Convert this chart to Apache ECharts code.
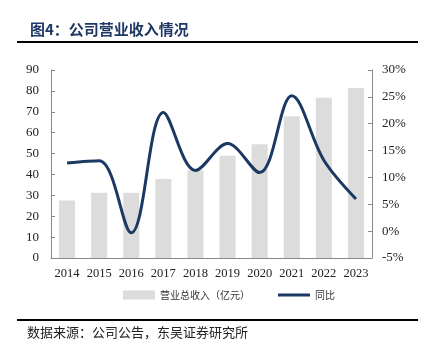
<!DOCTYPE html>
<html>
<head>
<meta charset="utf-8">
<script src="https://cdn.jsdelivr.net/npm/echarts@6/dist/echarts.min.js"></script>
<style>
  html, body { margin: 0; padding: 0; background: #fff; }
  #chart { width: 426px; height: 353px; }
</style>
</head>
<body>
<div id="chart"></div>
<script>
var years = ['2014', '2015', '2016', '2017', '2018', '2019', '2020', '2021', '2022', '2023'];
var revenue = [27.5, 31.2, 31.2, 37.8, 42.0, 48.9, 54.4, 67.9, 76.7, 81.4];
var yoy = [12.7, 13.1, -0.3, 22.1, 11.3, 16.3, 10.9, 25.2, 13.2, 6.0];

var serif = '"Liberation Serif", "Noto Sans CJK SC", serif';
var cjk = '"Noto Sans CJK SC", sans-serif';

var chart = echarts.init(document.getElementById('chart'));
chart.setOption({
    animation: false,
    title: {
        text: '图4：公司营业收入情况',
        left: 25, top: 17,
        textStyle: { fontFamily: cjk, fontSize: 15, fontWeight: 'bold', color: '#1f3864' }
    },
    graphic: [
        { type: 'rect', shape: { x: 17, y: 41, width: 401, height: 2 }, style: { fill: '#000' } },
        { type: 'rect', shape: { x: 17, y: 319, width: 401, height: 2 }, style: { fill: '#000' } },
        { type: 'text', left: 27, top: 326, style: { text: '数据来源：公司公告，东吴证券研究所', font: '13px ' + cjk, fill: '#222' } }
    ],
    grid: { left: 51, right: 54, top: 70, bottom: 95 },
    legend: {
        bottom: 48, left: 118,
        itemGap: 28,
        textStyle: { fontFamily: cjk, fontSize: 10, color: '#333' },
        data: [
            { name: '营业总收入（亿元）', icon: 'rect', itemStyle: { color: '#dcdcdc' } },
            { name: '同比', icon: 'path://M0,0L100,0L100,10L0,10Z', itemStyle: { color: '#1b3a63' } }
        ],
        itemWidth: 32, itemHeight: 9
    },
    xAxis: {
        type: 'category',
        data: years,
        axisLine: { lineStyle: { color: '#888' } },
        axisTick: { inside: true, length: 4, lineStyle: { color: '#888' } },
        axisLabel: { fontFamily: serif, fontSize: 12.5, color: '#222', margin: 9, interval: 0 }
    },
    yAxis: [{
        type: 'value', min: 0, max: 90, interval: 10,
        splitLine: { show: false },
        axisLine: { show: true, lineStyle: { color: '#888' } },
        axisTick: { show: true, inside: true, length: 4, lineStyle: { color: '#888' } },
        axisLabel: { fontFamily: serif, fontSize: 13, color: '#222', margin: 12 }
    }, {
        type: 'value', min: -5, max: 30, interval: 5,
        splitLine: { show: false },
        axisLine: { show: true, lineStyle: { color: '#888' } },
        axisTick: { show: true, inside: true, length: 4, lineStyle: { color: '#888' } },
        axisLabel: { fontFamily: serif, fontSize: 13, color: '#222', margin: 10, formatter: '{value}%' }
    }],
    series: [{
        name: '营业总收入（亿元）',
        type: 'bar',
        data: revenue,
        barWidth: '50%',
        itemStyle: { color: '#dcdcdc' }
    }, {
        name: '同比',
        type: 'line',
        yAxisIndex: 1,
        data: yoy,
        smooth: 0.35,
        symbol: 'none',
        lineStyle: { color: '#1b3a63', width: 3 },
        itemStyle: { color: '#1b3a63' }
    }]
});
</script>
</body>
</html>
